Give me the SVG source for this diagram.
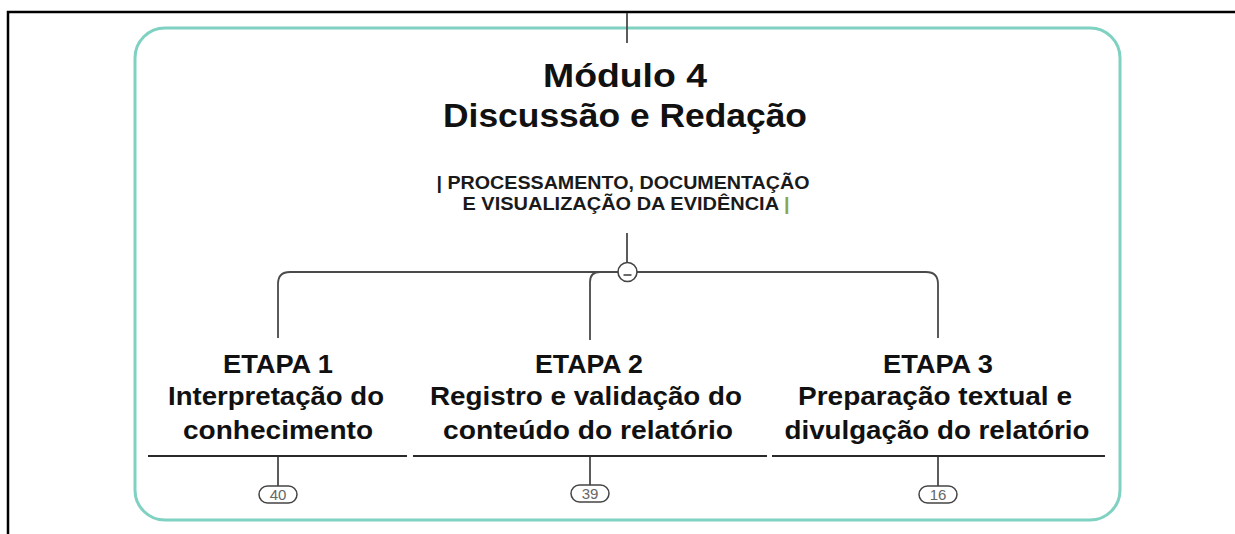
<svg xmlns="http://www.w3.org/2000/svg" width="1235" height="534" viewBox="0 0 1235 534">
<style>
.frame{fill:none;stroke:#000;stroke-width:2.5}
.panel{fill:#fff;stroke:#7fd1c1;stroke-width:3}
.conn{fill:none;stroke:#4a4a4a;stroke-width:1.8}
.title{font-family:"Liberation Sans",Arial,sans-serif;font-weight:bold;font-size:33px;fill:#111;text-anchor:middle}
.sub{font-family:"Liberation Sans",Arial,sans-serif;font-weight:bold;font-size:18px;fill:#1a1a1a;text-anchor:middle}
.etapa{font-family:"Liberation Sans",Arial,sans-serif;font-weight:bold;font-size:26px;fill:#111;text-anchor:middle}
.uline{stroke:#2a2a2a;stroke-width:1.8}
.badge{fill:#fff;stroke:#444;stroke-width:1.5}
.btext{font-family:"Liberation Sans",Arial,sans-serif;font-size:15px;fill:#666;text-anchor:middle}
</style>
<rect width="1235" height="534" fill="#fff"/>
<path class="frame" d="M8,534 V12 H1235"/>
<rect id="panel" class="panel" x="135" y="28" width="985" height="492" rx="30" ry="30"/>
<g id="connectors">
<line class="conn" x1="627" y1="13" x2="627" y2="43" stroke="#333"/>
<line class="conn" x1="627" y1="233" x2="627" y2="263"/>
<path class="conn" d="M278,338 V284 Q278,272 290,272 H926 Q938,272 938,284 V338"/>
<path class="conn" d="M590,340 V282 Q590,272 600,272 H618"/>
<line class="conn" x1="278" y1="457" x2="278" y2="486"/>
<line class="conn" x1="590" y1="457" x2="590" y2="485"/>
<line class="conn" x1="938" y1="457" x2="938" y2="486"/>
<circle cx="627.5" cy="272" r="9.5" fill="#fff" stroke="#444" stroke-width="1.6"/>
<line x1="623.5" y1="275" x2="631.5" y2="275" stroke="#444" stroke-width="1.6"/>
</g>
<g id="modulo4">
<text class="title" x="625" y="87" textLength="164" lengthAdjust="spacingAndGlyphs">Módulo 4</text>
<text class="title" x="625" y="127" textLength="364" lengthAdjust="spacingAndGlyphs">Discussão e Redação</text>
<text class="sub" x="623" y="189" textLength="373" lengthAdjust="spacingAndGlyphs">| PROCESSAMENTO, DOCUMENTAÇÃO</text>
<text class="sub" x="626" y="210" textLength="327" lengthAdjust="spacingAndGlyphs">E VISUALIZAÇÃO DA EVIDÊNCIA <tspan fill="#8aa64a">|</tspan></text>
</g>
<g id="etapa1">
<text class="etapa" x="278" y="373" textLength="110" lengthAdjust="spacingAndGlyphs">ETAPA 1</text>
<text class="etapa" x="276" y="405" textLength="216" lengthAdjust="spacingAndGlyphs">Interpretação do</text>
<text class="etapa" x="278" y="439" textLength="190" lengthAdjust="spacingAndGlyphs">conhecimento</text>
<line class="uline" x1="148" y1="456" x2="407" y2="456"/>
<rect class="badge" x="259" y="486" width="38" height="17" rx="8.5"/>
<text class="btext" x="278" y="500">40</text>
</g>
<g id="etapa2">
<text class="etapa" x="589" y="373" textLength="108" lengthAdjust="spacingAndGlyphs">ETAPA 2</text>
<text class="etapa" x="586" y="405" textLength="312" lengthAdjust="spacingAndGlyphs">Registro e validação do</text>
<text class="etapa" x="588" y="439" textLength="290" lengthAdjust="spacingAndGlyphs">conteúdo do relatório</text>
<line class="uline" x1="413" y1="456" x2="767" y2="456"/>
<rect class="badge" x="571" y="485" width="38" height="17" rx="8.5"/>
<text class="btext" x="590" y="499">39</text>
</g>
<g id="etapa3">
<text class="etapa" x="938" y="373" textLength="110" lengthAdjust="spacingAndGlyphs">ETAPA 3</text>
<text class="etapa" x="935" y="405" textLength="274" lengthAdjust="spacingAndGlyphs">Preparação textual e</text>
<text class="etapa" x="937" y="439" textLength="305" lengthAdjust="spacingAndGlyphs">divulgação do relatório</text>
<line class="uline" x1="772" y1="456" x2="1105" y2="456"/>
<rect class="badge" x="919" y="486" width="38" height="17" rx="8.5"/>
<text class="btext" x="938" y="500">16</text>
</g>
</svg>
